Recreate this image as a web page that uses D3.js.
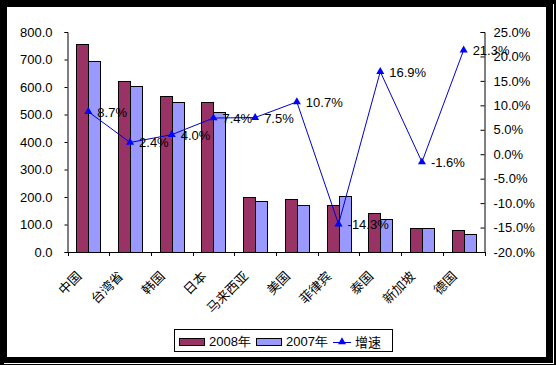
<!DOCTYPE html>
<html>
<head>
<meta charset="utf-8">
<script src="https://cdn.jsdelivr.net/npm/d3@7"></script>
<style>
  body { margin: 0; background: #fff; }
  text { font-family: "Liberation Sans", Arial, sans-serif; }
</style>
</head>
<body>
<script>
var countries = ["中国", "台湾省", "韩国", "日本", "马来西亚", "美国", "菲律宾", "泰国", "新加坡", "德国"];
var v2008 = [755, 622, 566, 544, 199, 192, 171, 141, 86, 79];
var v2007 = [696, 605, 544, 510, 184, 171, 204, 119, 86, 65];
var growth = [8.7, 2.4, 4.0, 7.4, 7.5, 10.7, -14.3, 16.9, -1.6, 21.3];
var leftTicks = [0, 100, 200, 300, 400, 500, 600, 700, 800];
var rightTicks = [-20, -15, -10, -5, 0, 5, 10, 15, 20, 25];

var W = 556, H = 365;
var svg = d3.select("body").append("svg").attr("width", W).attr("height", H);

// frame
svg.append("rect").attr("width", W).attr("height", H).attr("fill", "#000");
svg.append("rect").attr("x", 7).attr("y", 7).attr("width", 539).attr("height", 350).attr("fill", "#fff");
svg.append("line").attr("x1", 553.5).attr("x2", 553.5).attr("y1", 4).attr("y2", 364).attr("stroke", "#fff");
svg.append("line").attr("x1", 4).attr("x2", 554).attr("y1", 363.5).attr("y2", 363.5).attr("stroke", "#fff");

var pLeft = 67.5, pRight = 484.5, pTop = 32, pBottom = 252;

var x = d3.scaleBand().domain(countries).range([pLeft, pRight]);
var y = d3.scaleLinear().domain([0, 800]).range([pBottom, pTop]);
var y2 = d3.scaleLinear().domain([-20, 25]).range([pBottom, pTop]);

var barW = 12;

// bars
var g = svg.append("g");
g.selectAll(".b08").data(countries).enter().append("rect")
  .attr("x", d => Math.round(x(d) + x.bandwidth() / 2 - barW) + 0.5)
  .attr("y", (d, i) => Math.round(y(v2008[i])) + 0.5)
  .attr("width", barW)
  .attr("height", (d, i) => Math.round(pBottom - y(v2008[i])))
  .attr("fill", "#993366").attr("stroke", "#000").attr("stroke-width", 1);
g.selectAll(".b07").data(countries).enter().append("rect")
  .attr("x", d => Math.round(x(d) + x.bandwidth() / 2) + 0.5)
  .attr("y", (d, i) => Math.round(y(v2007[i])) + 0.5)
  .attr("width", barW)
  .attr("height", (d, i) => Math.round(pBottom - y(v2007[i])))
  .attr("fill", "#9999FF").attr("stroke", "#000").attr("stroke-width", 1);

// left axis
var la = svg.append("g").attr("transform", "translate(" + pLeft + ",0)")
  .call(d3.axisLeft(y).tickValues(leftTicks).tickSize(3).tickFormat(d3.format(".1f")));
la.selectAll("text").attr("font-size", 13).attr("x", -15).attr("fill", "#000")
  .style("font-family", "'Liberation Sans', Arial, sans-serif");
la.select(".domain").attr("stroke", "#000");

// right axis
var ra = svg.append("g").attr("transform", "translate(" + pRight + ",0)")
  .call(d3.axisRight(y2).tickValues(rightTicks).tickSize(-4).tickFormat(d => d.toFixed(1) + "%"));
ra.selectAll("text").attr("font-size", 13).attr("x", 9).attr("fill", "#000")
  .style("font-family", "'Liberation Sans', Arial, sans-serif");
ra.select(".domain").attr("stroke", "#000");

// bottom axis
svg.append("line").attr("x1", pLeft).attr("x2", pRight).attr("y1", pBottom + 0.5).attr("y2", pBottom + 0.5).attr("stroke", "#000");
var step = x.step();
d3.range(countries.length + 1).forEach(function (k) {
  var tx = Math.round(pLeft + k * step) + 0.5;
  svg.append("line").attr("x1", tx).attr("x2", tx).attr("y1", pBottom).attr("y2", pBottom + 4).attr("stroke", "#000");
});
svg.selectAll(".xl").data(countries).enter().append("text")
  .attr("transform", d => "translate(" + (x(d) + x.bandwidth() / 2 - 6) + "," + (pBottom + 25) + ") rotate(-45)")
  .attr("text-anchor", "end")
  .attr("font-size", 13)
  .style("font-family", "'Noto Sans CJK SC', sans-serif")
  .text(d => d);

// growth line
var line = d3.line().x((d, i) => x(countries[i]) + x.bandwidth() / 2).y(d => y2(d));
svg.append("path").datum(growth).attr("d", line).attr("fill", "none").attr("stroke", "#0000CC").attr("stroke-width", 1);
var tri = d3.symbol().type(d3.symbolTriangle).size(28);
svg.selectAll(".mk").data(growth).enter().append("path")
  .attr("d", tri)
  .attr("transform", (d, i) => "translate(" + (x(countries[i]) + x.bandwidth() / 2) + "," + y2(d) + ")")
  .attr("fill", "#0000FF");
svg.selectAll(".gl").data(growth).enter().append("text")
  .attr("x", (d, i) => x(countries[i]) + x.bandwidth() / 2 + 9)
  .attr("y", d => y2(d) + 5)
  .attr("font-size", 13)
  .text(d => d.toFixed(1) + "%");

// legend
var lg = svg.append("g");
lg.append("rect").attr("x", 174.5).attr("y", 329.5).attr("width", 218).attr("height", 22).attr("fill", "#fff").attr("stroke", "#000");
lg.append("rect").attr("x", 179.5).attr("y", 338.5).attr("width", 25).attr("height", 7).attr("fill", "#993366").attr("stroke", "#000");
lg.append("text").attr("x", 209).attr("y", 346).attr("font-size", 13).text("2008年");
lg.append("rect").attr("x", 256.5).attr("y", 338.5).attr("width", 25).attr("height", 7).attr("fill", "#9999FF").attr("stroke", "#000");
lg.append("text").attr("x", 286).attr("y", 346).attr("font-size", 13).text("2007年");
lg.append("line").attr("x1", 333).attr("x2", 351).attr("y1", 342.5).attr("y2", 342.5).attr("stroke", "#0000CC");
lg.append("path").attr("d", tri).attr("transform", "translate(342,342)").attr("fill", "#0000FF");
lg.append("text").attr("x", 355).attr("y", 347).attr("font-size", 13)
  .style("font-family", "'Noto Sans CJK SC', sans-serif").text("增速");
</script>
</body>
</html>
